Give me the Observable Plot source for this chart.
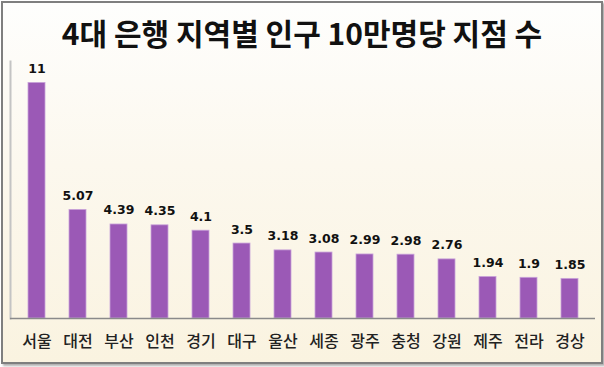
<!DOCTYPE html>
<html><head><meta charset="utf-8">
<script src="https://cdn.jsdelivr.net/npm/d3@7"></script>
<script src="https://cdn.jsdelivr.net/npm/@observablehq/plot@0.6"></script>
<style>
html,body{margin:0;padding:0;background:#fff;}
#frame{position:absolute;left:1px;top:1px;width:598px;height:359px;border:2px solid #7f7f7f;
 background:linear-gradient(to bottom,#fefefd 0%,#fcf8ee 45%,#faf3e0 100%);box-shadow:2px 2px 2px #b0b0b0;}
#title{position:absolute;left:0;top:11px;width:604px;text-align:center;font-family:"Noto Sans CJK KR",sans-serif;
 font-weight:700;font-size:30px;line-height:42px;color:#111;letter-spacing:0px;}
#chart{position:absolute;left:0;top:0;}
</style></head>
<body>
<div id="frame"></div>
<div id="chart"></div>
<div id="title">4대 은행 지역별 인구 10만명당 지점 수</div>
<script>
const regions = ["서울","대전","부산","인천","경기","대구","울산","세종","광주","충청","강원","제주","전라","경상"];
const values = [11, 5.07, 4.39, 4.35, 4.1, 3.5, 3.18, 3.08, 2.99, 2.98, 2.76, 1.94, 1.9, 1.85];
const data = regions.map((r, i) => ({region: r, value: values[i]}));

const chart = Plot.plot({
  width: 604, height: 367,
  marginLeft: 10, marginRight: 9, marginTop: 61, marginBottom: 49,
  style: {background: "transparent", fontFamily: "'Noto Sans CJK KR', sans-serif"},
  x: {domain: regions, paddingInner: 0.59, paddingOuter: 0.295, label: null},
  y: {domain: [0, 12], axis: null},
  marks: [
    Plot.barY(data, {x: "region", y: "value", fill: "#9b59b6", stroke: "#c9a3d9", strokeWidth: 0.8}),
    Plot.text(data, {x: "region", y: "value", text: d => String(d.value), dy: -14, fontWeight: 700, fontSize: 12.5, fontFamily: "'DejaVu Sans', sans-serif", fill: "#111"}),
    Plot.axisX({tickSize: 0, tickPadding: 17, fontSize: 16, fill: "#222", fontWeight: 500, label: null}),
    Plot.frame({anchor: "left", stroke: "#c4c4c4", strokeWidth: 2}),
    Plot.ruleY([0], {stroke: "#8a8a8a", strokeWidth: 1.5})
  ]
});
document.getElementById("chart").appendChild(chart);
</script>
</body></html>
